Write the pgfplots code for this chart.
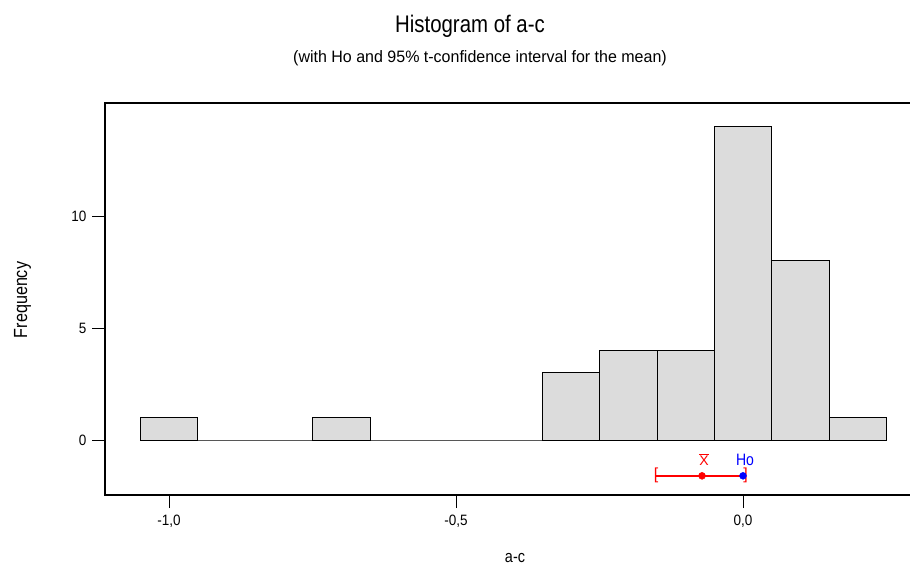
\documentclass[border=0pt]{standalone}
\usepackage{fontspec}
\setmainfont{Liberation Sans}
\newfontfamily\narrowfont[FakeStretch=0.85]{Liberation Sans}
\newfontfamily\tickfont[FakeStretch=0.9]{Liberation Sans}
\newfontfamily\subfont[FakeStretch=0.97]{Liberation Sans}
\usepackage{pgfplots}
\pgfplotsset{compat=1.18}
\begin{document}
\begin{tikzpicture}
\useasboundingbox (0,0) rectangle (910bp,565bp);
\begin{axis}[
  at={(105bp,70bp)}, anchor=south west,
  scale only axis, width=810.2bp, height=392bp,
  xmin=-1.1115, xmax=0.3, ymin=-2.455, ymax=15.045,
  axis line style={line width=1.4bp},
  tick style={line width=1bp, black},
  tick align=outside, major tick length=13bp,
  xtick={-1,-0.5,0}, xticklabels={{-1,0},{-0,5},{0,0}},
  ytick={0,5,10}, yticklabels={0,5,10},
  xticklabel style={font=\tickfont\fontsize{15bp}{17bp}\selectfont, yshift=-4bp},
  yticklabel style={font=\tickfont\fontsize{15bp}{17bp}\selectfont, xshift=-2bp},
  xtick pos=bottom, ytick pos=left,
  clip=false,
]
\addplot[ybar interval, fill={rgb,255:red,220;green,220;blue,220}, draw=black, line width=0.8bp]
coordinates {(-1.05,1)(-0.95,0)(-0.85,0)(-0.75,1)(-0.65,0)(-0.55,0)(-0.45,0)(-0.35,3)(-0.25,4)(-0.15,4)(-0.05,14)(0.05,8)(0.15,1)(0.25,1)};
\addplot[red, line width=1.8bp] coordinates {(-0.1516,-1.6)(0.005,-1.6)};
\addplot[red, only marks, mark=*, mark size=3.5bp] coordinates {(-0.0714,-1.6)};
\addplot[blue, only marks, mark=*, mark size=3.5bp] coordinates {(0,-1.6)};
\node[red, font=\fontsize{16bp}{18bp}\selectfont] at (axis cs:-0.1516,-1.6) {[};
\node[red, font=\fontsize{16bp}{18bp}\selectfont] at (axis cs:0.0045,-1.6) {]};
\node[red, font=\fontsize{14bp}{16bp}\selectfont, anchor=base, inner sep=0pt] at (axis cs:-0.0680,-1.116) {$\overline{\mbox{X}}$};
\node[blue, font=\narrowfont\fontsize{16.5bp}{18bp}\selectfont, anchor=base, inner sep=0pt] at (axis cs:0.0035,-1.116) {Ho};
\end{axis}
\node[font=\narrowfont\fontsize{24bp}{26bp}\selectfont, anchor=base, inner sep=0pt] at (470bp,532bp) {Histogram of a-c};
\node[font=\subfont\fontsize{16.5bp}{18bp}\selectfont, anchor=base, inner sep=0pt] at (480bp,502bp) {(with Ho and 95\% t-confidence interval for the mean)};
\node[font=\narrowfont\fontsize{17bp}{19bp}\selectfont, anchor=base, inner sep=0pt] at (515bp,2.5bp) {a-c};
\node[font=\narrowfont\fontsize{19bp}{21bp}\selectfont, anchor=base, inner sep=0pt, rotate=90] at (27bp,265bp) {Frequency};
\end{tikzpicture}
\end{document}
